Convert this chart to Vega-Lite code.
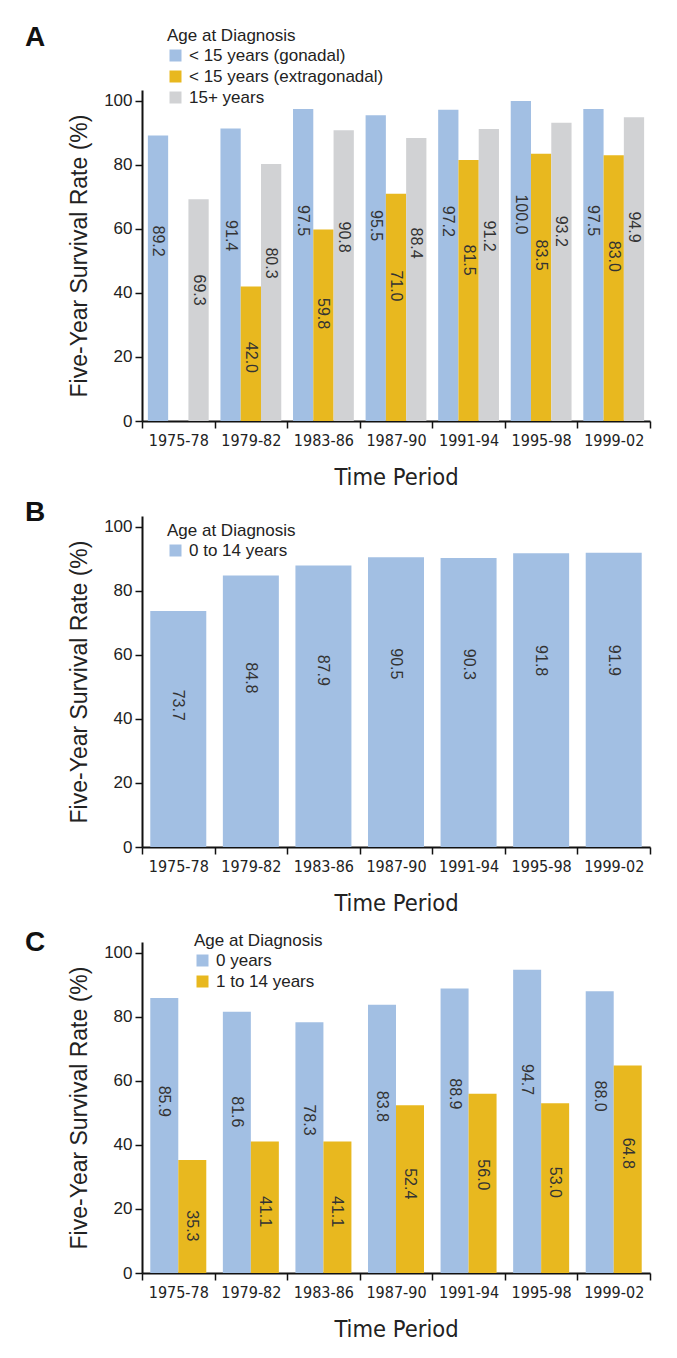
{
  "$schema": "https://vega.github.io/schema/vega-lite/v6.json",
  "padding": {"left": 25, "top": 24, "right": 5, "bottom": 5},
  "background": "white",
  "datasets": {
    "a": [
      {"period": "1975-78", "group": "< 15 years (gonadal)", "value": 89.2},
      {"period": "1975-78", "group": "15+ years", "value": 69.3},
      {"period": "1979-82", "group": "< 15 years (gonadal)", "value": 91.4},
      {"period": "1979-82", "group": "< 15 years (extragonadal)", "value": 42.0},
      {"period": "1979-82", "group": "15+ years", "value": 80.3},
      {"period": "1983-86", "group": "< 15 years (gonadal)", "value": 97.5},
      {"period": "1983-86", "group": "< 15 years (extragonadal)", "value": 59.8},
      {"period": "1983-86", "group": "15+ years", "value": 90.8},
      {"period": "1987-90", "group": "< 15 years (gonadal)", "value": 95.5},
      {"period": "1987-90", "group": "< 15 years (extragonadal)", "value": 71.0},
      {"period": "1987-90", "group": "15+ years", "value": 88.4},
      {"period": "1991-94", "group": "< 15 years (gonadal)", "value": 97.2},
      {"period": "1991-94", "group": "< 15 years (extragonadal)", "value": 81.5},
      {"period": "1991-94", "group": "15+ years", "value": 91.2},
      {"period": "1995-98", "group": "< 15 years (gonadal)", "value": 100.0},
      {"period": "1995-98", "group": "< 15 years (extragonadal)", "value": 83.5},
      {"period": "1995-98", "group": "15+ years", "value": 93.2},
      {"period": "1999-02", "group": "< 15 years (gonadal)", "value": 97.5},
      {"period": "1999-02", "group": "< 15 years (extragonadal)", "value": 83.0},
      {"period": "1999-02", "group": "15+ years", "value": 94.9}
    ],
    "b": [
      {"period": "1975-78", "group": "0 to 14 years", "value": 73.7},
      {"period": "1979-82", "group": "0 to 14 years", "value": 84.8},
      {"period": "1983-86", "group": "0 to 14 years", "value": 87.9},
      {"period": "1987-90", "group": "0 to 14 years", "value": 90.5},
      {"period": "1991-94", "group": "0 to 14 years", "value": 90.3},
      {"period": "1995-98", "group": "0 to 14 years", "value": 91.8},
      {"period": "1999-02", "group": "0 to 14 years", "value": 91.9}
    ],
    "c": [
      {"period": "1975-78", "group": "0 years", "value": 85.9},
      {"period": "1975-78", "group": "1 to 14 years", "value": 35.3},
      {"period": "1979-82", "group": "0 years", "value": 81.6},
      {"period": "1979-82", "group": "1 to 14 years", "value": 41.1},
      {"period": "1983-86", "group": "0 years", "value": 78.3},
      {"period": "1983-86", "group": "1 to 14 years", "value": 41.1},
      {"period": "1987-90", "group": "0 years", "value": 83.8},
      {"period": "1987-90", "group": "1 to 14 years", "value": 52.4},
      {"period": "1991-94", "group": "0 years", "value": 88.9},
      {"period": "1991-94", "group": "1 to 14 years", "value": 56.0},
      {"period": "1995-98", "group": "0 years", "value": 94.7},
      {"period": "1995-98", "group": "1 to 14 years", "value": 53.0},
      {"period": "1999-02", "group": "0 years", "value": 88.0},
      {"period": "1999-02", "group": "1 to 14 years", "value": 64.8}
    ]
  },
  "config": {
    "view": {"stroke": null},
    "axis": {
      "grid": false,
      "domainColor": "#111111",
      "domainWidth": 2,
      "tickColor": "#111111",
      "tickWidth": 1.5,
      "tickSize": 7,
      "labelColor": "#222222",
      "titleColor": "#222222",
      "titleFontWeight": "normal"
    },
    "axisX": {
      "labelFont": "DejaVu Sans Condensed, sans-serif",
      "labelFontSize": 16,
      "labelPadding": 4,
      "titleFont": "DejaVu Sans Condensed, sans-serif",
      "titleFontSize": 23.5,
      "titlePadding": 17
    },
    "axisY": {
      "labelFont": "Liberation Sans, Arial, sans-serif",
      "labelFontSize": 17,
      "labelPadding": 3,
      "titleFont": "Liberation Sans, Arial, sans-serif",
      "titleFontSize": 23,
      "titlePadding": 12
    },
    "legend": {
      "titleFont": "Liberation Sans, Arial, sans-serif",
      "labelFont": "Liberation Sans, Arial, sans-serif",
      "titleFontSize": 17,
      "labelFontSize": 17,
      "titleFontWeight": "normal",
      "titleColor": "#222222",
      "labelColor": "#222222",
      "symbolType": "square",
      "symbolSize": 144,
      "symbolStrokeWidth": 0,
      "rowPadding": 3,
      "titlePadding": 2,
      "labelOffset": 5,
      "padding": 0,
      "labelLimit": 400
    },
    "title": {
      "font": "Liberation Sans, Arial, sans-serif",
      "fontSize": 28,
      "fontWeight": "bold",
      "color": "#111111",
      "anchor": "start",
      "frame": "group",
      "dx": -117
    },
    "text": {"font": "Liberation Sans, Arial, sans-serif", "fontSize": 16, "color": "#333333"}
  },
  "vconcat": [
    {
      "width": 508,
      "height": 331,
      "title": {"text": "A", "dy": 28},
      "data": {"name": "a"},
      "encoding": {
        "x": {"field": "period", "type": "nominal", "sort": ["1975-78", "1979-82", "1983-86", "1987-90", "1991-94", "1995-98", "1999-02"], "scale": {"paddingInner": 0, "paddingOuter": 0}, "axis": {"title": "Time Period", "tickBand": "extent", "labelAngle": 0}},
        "xOffset": {"field": "group", "type": "nominal", "scale": {"domain": ["< 15 years (gonadal)", "< 15 years (extragonadal)", "15+ years"], "paddingInner": 0, "paddingOuter": 0.29}}
      },
      "layer": [
        {
          "mark": {"type": "bar"},
          "encoding": {
            "y": {"field": "value", "type": "quantitative", "scale": {"domain": [0, 103.4], "nice": false}, "axis": {"values": [0, 20, 40, 60, 80, 100], "title": "Five-Year Survival Rate (%)"}},
            "color": {"field": "group", "type": "nominal", "scale": {"domain": ["< 15 years (gonadal)", "< 15 years (extragonadal)", "15+ years"], "range": ["#A2BFE3", "#E8B81F", "#D1D2D4"]}, "legend": {"title": "Age at Diagnosis", "orient": "none", "legendX": 25, "legendY": -62}}
          }
        },
        {
          "mark": {"type": "text", "angle": 90, "align": "center", "baseline": "middle"},
          "encoding": {
            "y": {"field": "value", "type": "quantitative", "scale": {"domain": [16.2, 150.5], "nice": false, "zero": false}, "axis": null},
            "text": {"field": "value", "type": "quantitative", "format": ".1f"}
          }
        }
      ],
      "resolve": {"scale": {"y": "independent"}}
    },
    {
      "width": 508,
      "height": 331,
      "title": {"text": "B", "dy": 15},
      "data": {"name": "b"},
      "encoding": {
        "x": {"field": "period", "type": "nominal", "sort": ["1975-78", "1979-82", "1983-86", "1987-90", "1991-94", "1995-98", "1999-02"], "scale": {"paddingInner": 0, "paddingOuter": 0}, "axis": {"title": "Time Period", "tickBand": "extent", "labelAngle": 0}},
        "xOffset": {"field": "group", "type": "nominal", "scale": {"paddingInner": 0, "paddingOuter": 0.148}}
      },
      "layer": [
        {
          "mark": {"type": "bar"},
          "encoding": {
            "y": {"field": "value", "type": "quantitative", "scale": {"domain": [0, 103.4], "nice": false}, "axis": {"values": [0, 20, 40, 60, 80, 100], "title": "Five-Year Survival Rate (%)"}},
            "color": {"field": "group", "type": "nominal", "scale": {"domain": ["0 to 14 years"], "range": ["#A2BFE3"]}, "legend": {"title": "Age at Diagnosis", "orient": "none", "legendX": 25, "legendY": 7}}
          }
        },
        {
          "mark": {"type": "text", "angle": 90, "align": "center", "baseline": "middle"},
          "encoding": {
            "y": {"field": "value", "type": "quantitative", "scale": {"domain": [16.2, 150.5], "nice": false, "zero": false}, "axis": null},
            "text": {"field": "value", "type": "quantitative", "format": ".1f"}
          }
        }
      ],
      "resolve": {"scale": {"y": "independent"}}
    },
    {
      "width": 508,
      "height": 331,
      "title": {"text": "C", "dy": 28},
      "data": {"name": "c"},
      "encoding": {
        "x": {"field": "period", "type": "nominal", "sort": ["1975-78", "1979-82", "1983-86", "1987-90", "1991-94", "1995-98", "1999-02"], "scale": {"paddingInner": 0, "paddingOuter": 0}, "axis": {"title": "Time Period", "tickBand": "extent", "labelAngle": 0}},
        "xOffset": {"field": "group", "type": "nominal", "scale": {"domain": ["0 years", "1 to 14 years"], "paddingInner": 0, "paddingOuter": 0.296}}
      },
      "layer": [
        {
          "mark": {"type": "bar"},
          "encoding": {
            "y": {"field": "value", "type": "quantitative", "scale": {"domain": [0, 103.4], "nice": false}, "axis": {"values": [0, 20, 40, 60, 80, 100], "title": "Five-Year Survival Rate (%)"}},
            "color": {"field": "group", "type": "nominal", "scale": {"domain": ["0 years", "1 to 14 years"], "range": ["#A2BFE3", "#E8B81F"]}, "legend": {"title": "Age at Diagnosis", "orient": "none", "legendX": 52, "legendY": -9}}
          }
        },
        {
          "mark": {"type": "text", "angle": 90, "align": "center", "baseline": "middle"},
          "encoding": {
            "y": {"field": "value", "type": "quantitative", "scale": {"domain": [16.2, 150.5], "nice": false, "zero": false}, "axis": null},
            "text": {"field": "value", "type": "quantitative", "format": ".1f"}
          }
        }
      ],
      "resolve": {"scale": {"y": "independent"}}
    }
  ],
  "resolve": {"scale": {"x": "independent", "y": "independent", "xOffset": "independent", "color": "independent"}, "legend": {"color": "independent"}},
  "spacing": 95,
  "bounds": "flush"
}
